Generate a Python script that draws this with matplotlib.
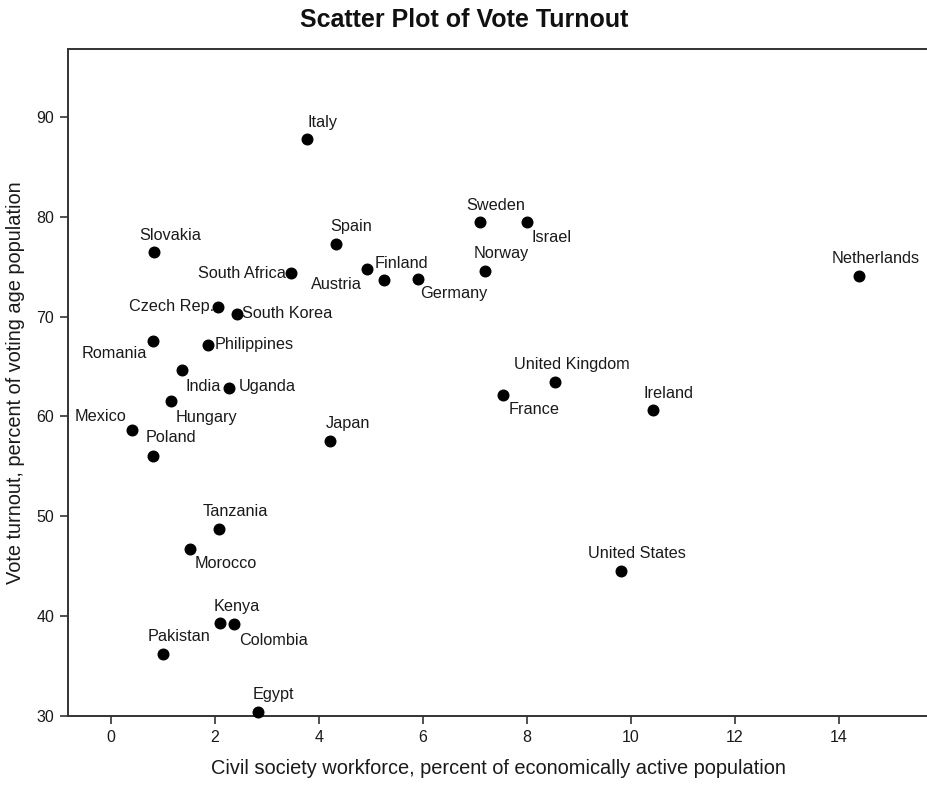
import matplotlib
matplotlib.use("Agg")
import matplotlib.pyplot as plt

plt.rcParams['font.family'] = ['Liberation Sans', 'DejaVu Sans']

countries = ["Italy", "Sweden", "Israel", "Spain", "Slovakia", "Netherlands",
             "Norway", "South Africa", "Finland", "Austria", "Germany",
             "Czech Rep.", "South Korea", "Romania", "Philippines", "India",
             "Uganda", "Hungary", "Mexico", "Poland", "Japan",
             "United Kingdom", "France", "Ireland", "Tanzania", "Morocco",
             "United States", "Kenya", "Colombia", "Pakistan", "Egypt"]

# civil society workforce, % of economically active population
workforce = [3.77, 7.10, 8.00, 4.32, 0.82, 14.40,
             7.20, 3.46, 4.92, 5.26, 5.90,
             2.05, 2.42, 0.80, 1.87, 1.37,
             2.26, 1.15, 0.40, 0.81, 4.21,
             8.55, 7.55, 10.42, 2.08, 1.51,
             9.81, 2.10, 2.37, 0.99, 2.82]

# vote turnout, % of voting age population
turnout = [87.75, 79.43, 79.47, 77.29, 76.46, 74.09,
           74.59, 74.36, 74.76, 73.62, 73.79,
           71.01, 70.28, 67.60, 67.20, 64.64,
           62.80, 61.53, 58.66, 56.05, 57.59,
           63.50, 62.10, 60.60, 48.74, 46.73,
           44.53, 39.29, 39.19, 36.21, 30.43]

xticks = [0, 2, 4, 6, 8, 10, 12, 14]
yticks = [30, 40, 50, 60, 70, 80, 90]

# label placement in pixels from the marker: (dx, dy, horizontal alignment)
above = (16, 17, 'center')
label_pos = {
    "Israel": (5, -15, 'left'),
    "South Africa": (-5, 0, 'right'),
    "Finland": (8, 6, 'left'),
    "Austria": (-23, -4, 'right'),
    "Germany": (2, -15, 'left'),
    "Czech Rep.": (-4, 0, 'right'),
    "South Korea": (5, 0, 'left'),
    "Romania": (-6, -13, 'right'),
    "Philippines": (6, 0, 'left'),
    "India": (3, -16, 'left'),
    "Uganda": (10, 2, 'left'),
    "Hungary": (5, -16, 'left'),
    "Mexico": (-6, 13, 'right'),
    "Poland": (-8, 18, 'left'),
    "Japan": (-4, 17, 'left'),
    "France": (5, -14, 'left'),
    "Morocco": (5, -15, 'left'),
    "Colombia": (5, -16, 'left'),
    "Italy": (0, 17, 'left'),
}

fig = plt.figure(figsize=(9.28, 7.87), dpi=100)
ax = fig.add_axes([68 / 928, 71 / 787, 860 / 928, 667 / 787])

ax.scatter(workforce, turnout, s=58, color='black', zorder=3, clip_on=False)

for name, x, y in zip(countries, workforce, turnout):
    dx, dy, ha = label_pos.get(name, above)
    ax.annotate(name, (x, y), xytext=(dx, dy), textcoords='offset pixels',
                ha=ha, va='center', fontsize=11.7, color='#1a1a1a')

ax.set_xlim(-0.83, 15.72)
ax.set_ylim(30, 96.8)
ax.set_xticks(xticks)
ax.set_yticks(yticks)
ax.tick_params(direction='out', length=6, width=1.2, colors='#333333',
               labelsize=11.5, labelcolor='#1a1a1a', pad=4)

for side in ['left', 'bottom', 'top']:
    ax.spines[side].set_linewidth(1.4)
    ax.spines[side].set_color('#333333')
ax.spines['right'].set_visible(False)

ax.set_xlabel("Civil society workforce, percent of economically active population",
              fontsize=14.4, color='#1a1a1a', labelpad=10)
ax.set_ylabel("Vote turnout, percent of voting age population",
              fontsize=14.4, color='#1a1a1a')
ax.yaxis.set_label_coords(-0.05, 0.5)

fig.text(0.5, 0.975, "Scatter Plot of Vote Turnout", ha='center', va='center',
         fontsize=18, fontweight='bold', color='#111111')

fig.savefig("out.png", dpi=100)
